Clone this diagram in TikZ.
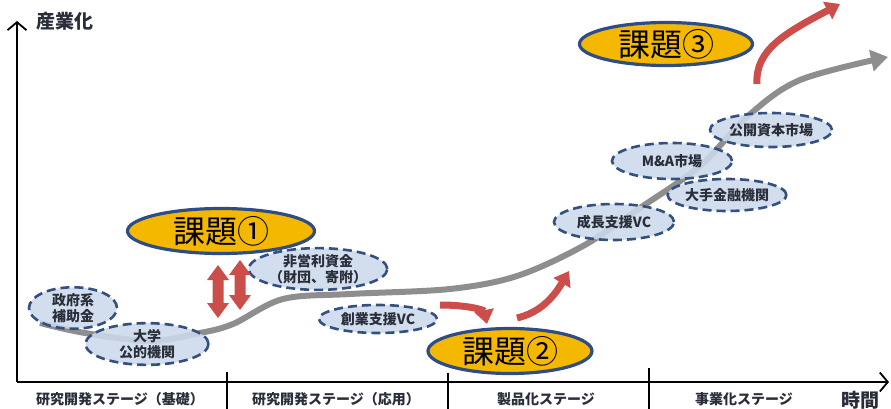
\documentclass[tikz,border=0pt]{standalone}
\usepackage{fontspec}
\newfontfamily\jp{Noto Sans CJK JP}
\usetikzlibrary{shapes.geometric,arrows.meta}
\definecolor{kfill}{HTML}{F4B800}
\definecolor{kborder}{HTML}{2E4C86}
\definecolor{lblue}{HTML}{CCDAEC}
\definecolor{bdash}{HTML}{34507F}
\definecolor{tdark}{HTML}{2A2E3A}
\definecolor{curvegray}{HTML}{8E8E8E}
\definecolor{redarr}{HTML}{CC4E4A}
\begin{document}
\begin{tikzpicture}[x=1pt,y=-1pt,
  bluebox/.style={ellipse, draw=bdash, fill=lblue, fill opacity=0.88, text opacity=1,
    line width=2.6pt, dash pattern=on 9pt off 5pt, inner sep=0pt, align=center,
    text=tdark, font=\jp\bfseries\fontsize{14}{16}\selectfont},
  kadai/.style={ellipse, draw=kborder, fill=kfill, line width=3.2pt, inner sep=0pt,
    font=\jp\fontsize{32}{34}\selectfont, text=black},
  stagelabel/.style={font=\jp\bfseries\fontsize{14}{16}\selectfont, text=tdark},
  axislabel/.style={font=\jp\bfseries\fontsize{19}{21}\selectfont, text=tdark, anchor=west},
  axisline/.style={line width=1.8pt, -{Straight Barb[length=8pt,width=19pt,line width=1.8pt]}},
  divider/.style={line width=1.8pt},
  graycurve/.style={line width=6pt, draw=curvegray, -{Triangle[length=17pt,width=21pt]}},
  redcurve/.style={line width=7pt, draw=redarr, -{Triangle[length=14pt,width=19pt]}},
  redshape/.style={fill=redarr, draw=none}
]
\useasboundingbox (0,0) rectangle (891,409);

% axes
\coordinate (origin) at (17,382);
\coordinate (ytop) at (17,21);
\coordinate (xend) at (889,382);
\draw[axisline] (origin) -- (ytop);
\draw[axisline] (origin) -- (xend);
\node[axislabel] (ylab) at (33,21) {産業化};
\node[axislabel] (xlab) at (838,400) {時間};

% dividers
\coordinate (d1t) at (227,372); \coordinate (d1b) at (227,409);
\coordinate (d2t) at (448,373); \coordinate (d2b) at (448,409);
\coordinate (d3t) at (649,368); \coordinate (d3b) at (649,409);
\draw[divider] (d1t) -- (d1b);
\draw[divider] (d2t) -- (d2b);
\draw[divider] (d3t) -- (d3b);

% stage labels
\node[stagelabel] (s1) at (120,399) {研究開発ステージ（基礎）};
\node[stagelabel] (s2) at (336,399) {研究開発ステージ（応用）};
\node[stagelabel] (s3) at (546,399) {製品化ステージ};
\node[stagelabel] (s4) at (744,399) {事業化ステージ};

% main gray curve
\draw[graycurve] plot[smooth, tension=0.55] coordinates {
  (40,323) (85,333) (150,341) (200,333) (233,324) (283,299) (350,294)
  (450,289) (517,276) (583,246) (640,208) (700,166) (748,116) (800,80) (888,57)};

% blue dashed ellipses
\node[bluebox, minimum width=88pt, minimum height=38pt] (seifu) at (73,308) {政府系\\補助金};
\node[bluebox, minimum width=123pt, minimum height=34pt] (daigaku) at (147,344) {大学\\公的機関};
\node[bluebox, minimum width=125pt, minimum height=34pt] (hieiri) at (318,269) {非営利資金\\（財団、寄附）};
\node[bluebox, minimum width=118pt, minimum height=28pt] (sogyo) at (378,319) {創業支援VC};
\node[bluebox, minimum width=120pt, minimum height=36pt] (seicho) at (614,222) {成長支援VC};
\node[bluebox, minimum width=113pt, minimum height=32pt] (ote) at (727,195) {大手金融機関};
\node[bluebox, minimum width=120pt, minimum height=36pt] (ma) at (672,161) {M\&A市場};
\node[bluebox, minimum width=122pt, minimum height=34pt] (koukai) at (771,130) {公開資本市場};

% kadai ellipses
\node[kadai, minimum width=187pt, minimum height=45pt] (k1) at (221,231) {課題①};
\node[kadai, minimum width=164pt, minimum height=45pt] (k2) at (510,351) {課題②};
\node[kadai, minimum width=173pt, minimum height=43pt] (k3) at (666,44) {課題③};

% red double arrows
\fill[redshape] (218,265) -- (229,280) -- (223.5,280) -- (223.5,303) -- (229,303) -- (218,318)
  -- (207,303) -- (212.5,303) -- (212.5,280) -- (207,280) -- cycle;
\fill[redshape] (240,260) -- (251,275) -- (245.5,275) -- (245.5,295) -- (251,295) -- (240,310)
  -- (229,295) -- (234.5,295) -- (234.5,275) -- (229,275) -- cycle;

% red curved arrows
\coordinate (r2a) at (440,305); \coordinate (r2b) at (487,324);
\draw[redcurve] (r2a) .. controls (468,305) and (484,310) .. (r2b);
\coordinate (r3a) at (517,318); \coordinate (r3b) at (569,271);
\draw[redcurve] (r3a) .. controls (538,313) and (552,300) .. (r3b);
\coordinate (r4a) at (757,84); \coordinate (r4b) at (840,4);
\draw[redcurve] (r4a) .. controls (755,50) and (785,33) .. (r4b);
\end{tikzpicture}
\end{document}
